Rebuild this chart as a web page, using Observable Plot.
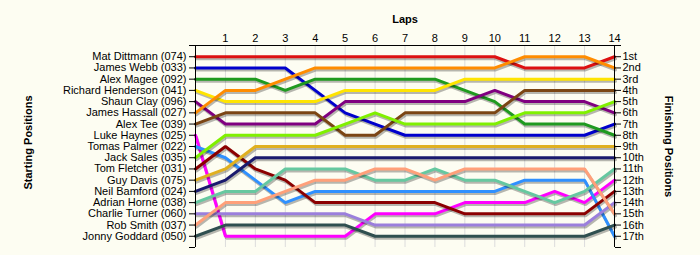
<!DOCTYPE html>
<html><head><meta charset="utf-8">
<script src="https://cdn.jsdelivr.net/npm/d3@7"></script>
<script src="https://cdn.jsdelivr.net/npm/@observablehq/plot@0.6"></script>
<style>
html,body{margin:0;padding:0;background:#fdfdf2;}
#chart svg{display:block;}
</style></head><body><div id="chart"></div>
<script>
const drivers = [
  "Mat Dittmann (074)", "James Webb (033)", "Alex Magee (092)", "Richard Henderson (041)",
  "Shaun Clay (096)", "James Hassall (027)", "Alex Tee (039)", "Luke Haynes (025)",
  "Tomas Palmer (022)", "Jack Sales (035)", "Tom Fletcher (031)", "Guy Davis (075)",
  "Neil Bamford (024)", "Adrian Horne (038)", "Charlie Turner (060)", "Rob Smith (037)",
  "Jonny Goddard (050)"
];
const colors = [
  "#dd1111", "#0000cc", "#1f9a1f", "#ffe400", "#800080", "#ff8c00", "#7b4513", "#ff00ff",
  "#2f90ff", "#80f000", "#8b0000", "#e0b020", "#1a1a6e", "#66c8a0", "#9b7fdc", "#ffa07a",
  "#2f4f4f"
];
// positions at laps 0..14
const positions = [
  [1,1,1,1,1,1,1,1,1,1,1,2,2,2,1],
  [2,2,2,2,4,6,7,8,8,8,8,8,8,8,7],
  [3,3,3,4,3,3,3,3,3,4,5,7,7,7,8],
  [4,5,5,5,5,4,4,4,4,3,3,3,3,3,3],
  [5,7,7,7,7,5,5,5,5,5,4,5,5,5,6],
  [6,4,4,3,2,2,2,2,2,2,2,1,1,1,2],
  [7,6,6,6,6,8,8,6,6,6,6,4,4,4,4],
  [8,17,17,17,17,17,15,15,15,14,14,14,13,14,12],
  [9,10,12,14,13,13,13,13,13,13,13,12,12,12,17],
  [10,8,8,8,8,7,6,7,7,7,7,6,6,6,5],
  [11,9,11,12,14,14,14,14,14,15,15,15,15,15,13],
  [12,11,9,9,9,9,9,9,9,9,9,9,9,9,9],
  [13,12,10,10,10,10,10,10,10,10,10,10,10,10,10],
  [14,13,13,11,11,11,12,12,11,12,12,13,14,13,11],
  [15,15,15,15,15,15,16,16,16,16,16,16,16,16,14],
  [16,14,14,13,12,12,11,11,12,11,11,11,11,11,15],
  [17,16,16,16,16,16,17,17,17,17,17,17,17,17,16]
];
const lapTicks = d3.range(1, 15);
const finishLabels = ["1st","2nd","3rd","4th","5th","6th","7th","8th","9th","10th",
  "11th","12th","13th","14th","15th","16th","17th"];
const titleX = "Laps", titleLeft = "Starting Positions", titleRight = "Finishing Positions";

const rows = drivers.map((name, i) => positions[i].map((p, lap) => ({name, lap, pos: p, color: colors[i]})));

const lineMarks = [];
rows.forEach((r, i) => {
  lineMarks.push(Plot.line(r, {x: "lap", y: "pos", stroke: "#000", strokeOpacity: 0.28, strokeWidth: 3, dx: 1, dy: 2, strokeLinejoin: "miter"}));
  lineMarks.push(Plot.line(r, {x: "lap", y: "pos", stroke: colors[i], strokeWidth: 3, strokeLinejoin: "miter"}));
});

const font = "Liberation Sans, Arial, sans-serif";
const chart = Plot.plot({
  width: 700, height: 255,
  marginLeft: 195, marginRight: 86, marginTop: 45, marginBottom: 8,
  style: {background: "#fdfdf2", fontFamily: font, fontSize: "11px", color: "#000"},
  x: {domain: [0, 14], axis: null},
  y: {domain: [0, 18], reverse: true, axis: null},
  marks: [
    Plot.gridX(d3.range(0, 15), {stroke: "#dcdcdc", strokeOpacity: 1, strokeWidth: 1}),
    ...lineMarks,
    Plot.ruleX([0, 14], {stroke: "#000", strokeWidth: 1}),
    Plot.ruleY([0], {stroke: "#000", strokeWidth: 1}),
    Plot.axisX(lapTicks, {anchor: "top", tickSize: 0, tickPadding: 4, fontSize: 11, label: null, fill: "#000"}),
    Plot.axisY(d3.range(0, 19), {anchor: "left", tickSize: 6, tickPadding: 3, fontSize: 11, label: null,
      tickFormat: d => (d >= 1 && d <= 17) ? drivers[d - 1] : "", fill: "#000"}),
    Plot.axisY(d3.range(0, 19), {anchor: "right", tickSize: 6, tickPadding: 2, fontSize: 11, label: null,
      tickFormat: d => (d >= 1 && d <= 17) ? finishLabels[d - 1] : "", fill: "#000"}),
    Plot.text([titleX], {frameAnchor: "top", dy: -30, fontWeight: "bold", fontSize: 11, fill: "#000"}),
    Plot.text([titleLeft], {frameAnchor: "left", textAnchor: "middle", dx: -167, dy: -4, rotate: -90, fontWeight: "bold", fontSize: 11, fill: "#000"}),
    Plot.text([titleRight], {frameAnchor: "right", textAnchor: "middle", dx: 54, rotate: 90, fontWeight: "bold", fontSize: 11, fill: "#000"})
  ]
});
document.getElementById("chart").appendChild(chart);
</script>
</body></html>
